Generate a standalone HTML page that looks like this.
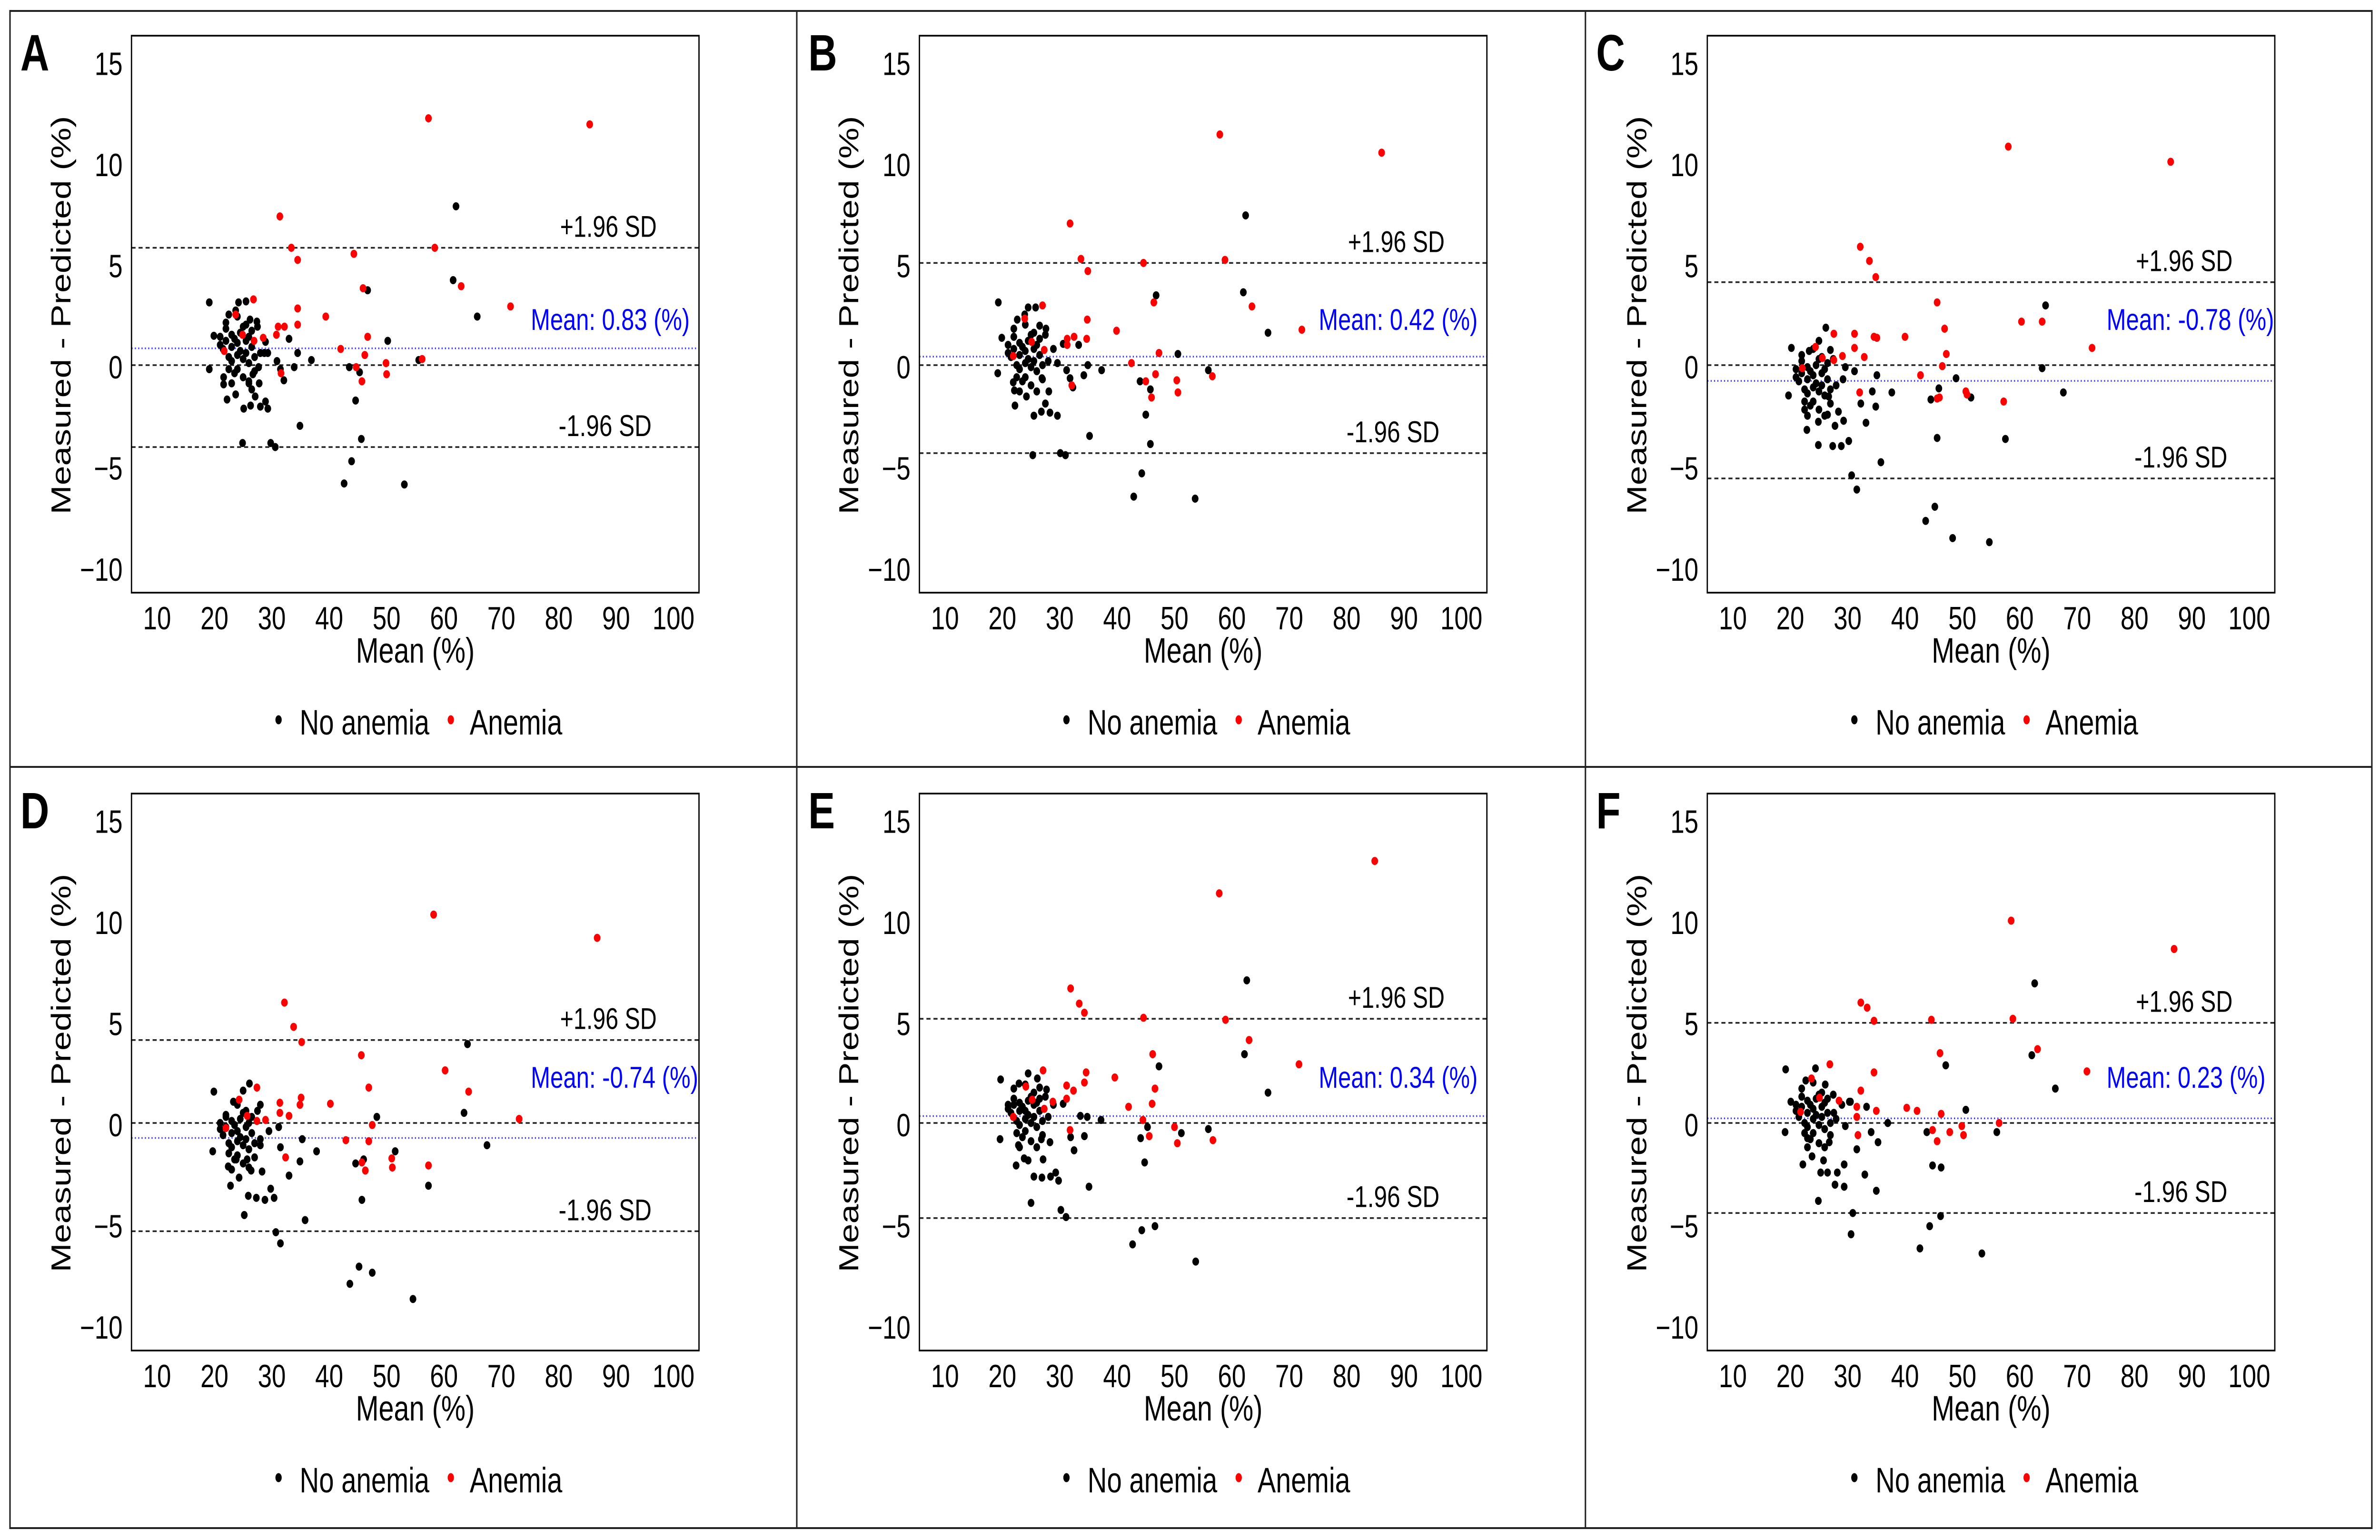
<!DOCTYPE html>
<html><head><meta charset="utf-8"><style>
html,body{margin:0;padding:0;background:#fff;overflow:hidden;width:100vw;height:100vh;}
svg{display:block;font-family:"Liberation Sans",Arial,sans-serif;width:100vw;height:100vh;}
</style></head><body>
<svg id="fig" xmlns="http://www.w3.org/2000/svg" viewBox="0 0 6425 3235" preserveAspectRatio="none">
<rect x="0" y="0" width="6425" height="3235" fill="#fff"/>
<rect x="27" y="23" width="6376" height="3187" fill="none" stroke="#222" stroke-width="4"/>
<line x1="2151" y1="23" x2="2151" y2="3210" stroke="#222" stroke-width="4"/>
<line x1="4280" y1="23" x2="4280" y2="3210" stroke="#222" stroke-width="4"/>
<line x1="27" y1="1611" x2="6403" y2="1611" stroke="#222" stroke-width="4"/>
</svg>
<script>
// ---------- data (data units: x = Mean %, y = Measured - Predicted %) ----------
const panelLetters = ["A","B","C","D","E","F"];
const meanValues = [0.83, 0.42, -0.78, -0.74, 0.34, 0.23];
const upperSD = [5.8, 5.05, 4.1, 4.1, 5.15, 4.95];
const lowerSD = [-4.05, -4.35, -5.6, -5.35, -4.7, -4.45];
const xTicks = [10,20,30,40,50,60,70,80,90,100];
const yTicks = [15,10,5,0,-5,-10];
const yTickLabels = ["15","10","5","0","\u22125","\u221210"];

const aNoX = [62.1,61.6,65.8,46.7,50.2,55.6,36.9,34.5,33.0,33.9,30.9,31.5,32.1,34.9,43.5,45.3,44.6,45.6,43.9,42.6,53.1,30.6,29.8,24.9,29.3,28.9,28.0,26.3,25.1,27.1,23.7,22.2,19.1,19.1,19.9,22.5,24.2,25.5,23.7,27.4,26.2,28.9,28.7,29.3,27.7,26.7,26.0,27.8,26.5,21.6,21.6,
 21,21.5,22,22,22.5,22.5,23,23,23,23.5,23.5,24,24,24,24.5,24.5,25,25,25,25.5,25.5,26,26,26,26.5,26.5,27,27,27.5,28,22,24,25.5,21,23];
const aNoY = [7.85,4.2,2.4,3.7,1.2,0.25,0.25,0.6,1.3,-0.1,0.2,-0.2,-0.75,-3.0,-0.1,-0.35,-1.75,-3.65,-4.75,-5.85,-5.9,-4.05,-3.85,-3.85,-2.15,-1.8,-2.05,-2.0,-2.15,-1.55,-1.45,-1.7,3.1,-0.2,1.45,2.5,3.1,3.15,2.7,2.15,2.25,1.15,0.6,0.6,-0.1,-0.45,-0.8,-0.9,-1.2,-0.95,-0.6,
 1.0,0.8,1.8,1.2,0.4,-0.2,1.5,0.9,0.2,1.3,-0.4,1.1,0.5,-0.2,1.6,0.7,1.9,0.3,-0.6,1.2,0.6,1.4,0.1,-0.9,0.9,1.7,0.4,-0.3,1.9,0.6,2.1,2.4,2.0,1.4,-0.9];
const aAnX = [57.3,85.4,31.4,33.4,34.5,44.3,58.4,63.0,71.6,45.9,34.5,39.4,34.5,31.1,32.2,26.8,28.5,46.7,42.0,46.2,49.9,56.2,50.0,45.7,31.6,44.7,30.8,24.9,23.7,26.9,21.7];
const aAnY = [12.2,11.9,7.35,5.8,5.2,5.5,5.8,3.9,2.9,3.8,2.8,2.4,2.0,1.9,1.9,3.25,1.35,1.4,0.8,0.5,0.1,0.3,-0.45,-0.8,-0.4,-0.1,1.5,1.5,2.5,1.2,0.7];

const bNoX = [62.4,62.0,66.3,46.8,50.6,55.9,37.3,34.9,33.3,34.2,30.6,31.2,31.8,32.3,35.2,44.0,45.8,45.0,45.8,44.3,42.9,53.6,31.0,30.1,25.3,29.6,28.3,26.8,25.5,27.5,24.2,22.2,19.3,19.2,19.9,22.6,24.5,25.8,23.9,27.6,26.5,28.9,29.6,28.1,26.9,22.1,21.9,
 21,21.5,22,22,22.5,22.5,23,23,23,23.5,23.5,24,24,24,24.5,24.5,25,25,25,25.5,25.5,26,26,26,26.5,26.5,27,27,27.5,28,22,24,25.5,21,23];
const bNoY = [7.4,3.6,1.6,3.45,0.55,-0.25,-0.25,0.0,1.0,-0.5,1.05,-0.25,-0.65,-1.1,-3.5,-0.8,-1.2,-2.45,-3.9,-5.35,-6.5,-6.6,-4.45,-4.35,-4.45,-2.5,-2.35,-2.3,-2.5,-1.9,-1.55,-2.0,3.1,-0.4,1.35,2.25,2.85,2.85,2.5,1.8,1.95,0.8,0.1,-1.3,-0.65,-1.25,-0.85,
 0.6,0.4,1.4,0.8,0.0,-0.6,1.1,0.5,-0.2,0.9,-0.8,0.7,0.1,-0.6,1.2,0.3,1.5,-0.1,-1.0,0.8,0.2,1.0,-0.3,-1.3,0.5,1.3,0.0,-0.7,1.5,0.2,1.8,2.0,1.6,1.0,-1.3];
const bAnX = [57.9,86.1,31.8,33.7,34.9,44.6,58.8,63.5,72.2,46.4,34.8,39.9,34.7,31.3,32.5,27.0,31.3,47.3,42.5,46.7,50.4,56.6,50.6,46.0,32.1,45.0,27.3,25.1,23.9,21.9];
const bAnY = [11.4,10.5,7.0,5.25,4.65,5.05,5.2,2.9,1.75,3.1,2.25,1.7,1.3,1.3,1.4,2.95,1.0,0.6,0.1,-0.45,-0.75,-0.55,-1.35,-1.6,-1.0,-0.8,0.75,1.15,2.3,0.45];

const cNoX = [64.5,63.9,67.6,48.9,51.5,57.5,37.7,35.1,34.3,31.2,32.3,34.9,33.2,35.8,44.5,45.9,45.6,45.2,43.6,48.3,54.7,31.6,30.7,24.9,27.4,28.9,30.2,27.8,29.3,28.4,26.5,24.9,22.9,22.5,19.7,20.2,23.3,25.0,26.2,27.0,29.6,29.2,26.7,
 21,21.5,22,22,22.5,22.5,23,23,23,23.5,23.5,24,24,24,24.5,24.5,25,25,25,25.5,25.5,26,26,26,26.5,26.5,27,27,27.5,28,22,24,25.5,21,23];
const cNoY = [2.95,-0.15,-1.35,-0.65,-1.6,-3.65,-1.35,-0.5,-1.3,-0.3,-1.9,-2.05,-2.85,-4.8,-1.7,-1.15,-3.6,-7.0,-7.7,-8.55,-8.75,-6.15,-5.45,-3.95,-4.0,-4.0,-3.75,-3.0,-2.75,-2.3,-2.45,-2.8,-3.2,-2.2,-1.5,0.85,0.7,1.2,1.85,0.75,-0.1,-0.7,-1.55,
 -0.6,-0.8,0.2,-0.4,-1.2,-1.8,-0.1,-0.7,-1.4,-0.3,-2.0,-0.5,-1.1,-1.8,0.0,-0.9,0.3,-1.3,-2.2,-0.4,-1.0,-0.2,-1.5,-2.5,-0.7,0.1,-1.2,-1.9,0.3,-1.0,0.5,0.8,0.4,-0.2,-2.5];
const cAnX = [58.0,86.3,32.2,33.8,34.9,45.6,60.3,63.9,72.6,46.9,34.6,40.0,35.1,31.2,31.2,27.6,29.1,47.2,42.7,46.5,50.6,57.2,50.8,45.6,32.1,46.0,27.6,25.6,24.4,22.1,32.9];
const cAnY = [10.8,10.05,5.85,5.15,4.35,3.1,2.15,2.15,0.85,1.8,1.4,1.4,1.35,1.55,0.85,1.55,0.45,0.55,-0.5,-0.05,-1.3,-1.8,-1.45,-1.65,-1.35,-1.6,0.25,0.35,0.9,-0.15,0.4];

const dNoX = [64.1,63.5,67.5,48.3,51.5,57.3,37.8,35.3,34.9,31.2,31.5,33.0,35.8,44.6,46.0,45.7,45.2,43.6,47.5,54.6,30.7,31.5,25.2,25.9,27.3,28.8,30.4,29.8,28.3,26.4,24.3,22.8,22.4,19.7,19.9,23.3,25.0,26.1,28.0,29.5,28.0,25.7,23.8,
 21,21.5,22,22,22.5,22.5,23,23,23,23.5,23.5,24,24,24,24.5,24.5,25,25,25,25.5,25.5,26,26,26,26.5,26.5,27,27,27.5,28,22,24,25.5,21,23];
const dNoY = [3.9,0.5,-1.1,0.3,-1.4,-3.1,-1.4,-0.8,-1.9,-0.2,-1.2,-2.6,-4.8,-2.0,-1.8,-3.8,-7.1,-7.95,-7.4,-8.7,-5.4,-5.95,-4.55,-3.6,-3.7,-3.8,-3.7,-3.25,-2.4,-2.35,-2.7,-3.1,-2.15,-1.4,1.55,1.05,1.6,1.95,0.9,-0.4,-1.1,-1.8,-1.8,
 -0.3,-0.6,0.3,-0.2,-1.0,-1.5,0.1,-0.5,-1.2,-0.1,-1.8,-0.4,-0.9,-1.6,0.2,-0.7,0.5,-1.1,-2.0,-0.2,-0.8,0.0,-1.3,-2.2,-0.5,0.3,-1.0,-1.7,0.6,-0.8,0.4,0.9,0.6,0.0,-2.3];
const dAnX = [58.2,86.7,32.2,33.8,35.2,45.6,60.2,64.3,73.1,46.9,35.1,40.2,34.9,31.4,31.4,27.4,28.9,33.0,47.5,42.9,46.9,50.9,57.3,51.0,45.7,46.3,32.4,27.4,25.7,24.3,22.0];
const dAnY = [10.3,9.15,5.95,4.75,4.0,3.35,2.6,1.55,0.2,1.75,1.25,0.95,0.9,1.0,0.5,1.75,0.15,0.35,-0.1,-0.85,-0.9,-1.75,-2.1,-2.2,-1.95,-2.35,-1.7,0.1,0.35,1.15,-0.25];

const eNoX = [62.6,62.2,66.3,47.3,51.2,55.9,37.2,34.8,33.6,34.3,30.6,31.9,32.5,35.1,44.1,45.3,44.8,46.6,44.3,42.7,53.7,31.1,30.2,25.0,25.5,26.9,28.4,29.8,29.3,27.1,24.5,23.8,22.4,19.6,19.7,22.9,24.5,26.1,27.7,26.5,28.9,28.3,26.8,22.8,
 21,21.5,22,22,22.5,22.5,23,23,23,23.5,23.5,24,24,24,24.5,24.5,25,25,25,25.5,25.5,26,26,26,26.5,26.5,27,27,27.5,28,22,24,25.5,21,23];
const eNoY = [7.05,3.4,1.5,2.8,-0.5,-0.3,0.15,0.3,0.35,-0.65,0.95,-0.7,-1.35,-3.15,-0.75,-0.2,-1.95,-5.1,-5.3,-6.0,-6.85,-4.65,-4.3,-3.95,-2.65,-2.7,-2.65,-2.85,-2.45,-1.8,-1.85,-1.75,-2.1,-0.8,2.15,1.95,2.45,2.2,1.65,1.75,0.9,-0.95,-0.8,-1.1,
 0.7,0.5,1.2,0.9,0.1,-0.5,1.0,0.6,-0.1,0.8,-0.7,0.6,0.2,-0.4,1.1,0.4,1.3,0.0,-0.9,0.9,0.3,1.0,-0.2,-1.2,0.6,1.2,0.1,-0.6,1.3,0.3,1.7,1.9,1.5,0.9,-1.2];
const eAnX = [57.8,84.9,31.9,33.4,34.3,44.6,58.9,63.0,71.7,46.2,34.6,39.6,34.3,31.2,32.4,27.1,31.2,46.6,42.0,46.1,50.0,56.7,50.5,45.6,31.8,44.5,27.3,25.2,24.1,21.9,28.8];
const eAnY = [11.35,12.95,6.65,5.9,5.45,5.2,5.1,4.1,2.9,3.4,2.5,2.25,2.0,1.85,1.6,2.6,1.2,1.7,0.8,0.95,-0.2,-0.85,-1.0,-0.65,-0.35,0.15,0.7,1.15,1.8,0.3,1.05];

const fNoX = [62.6,62.1,66.2,47.1,50.6,56.0,37.0,35.3,34.1,33.3,30.5,31.6,29.6,33.0,35.0,43.8,44.8,46.3,46.2,44.3,42.6,53.4,30.9,30.6,24.9,27.8,29.4,29.4,28.2,26.5,25.3,25.8,23.8,22.2,19.1,19.2,20.1,22.7,24.4,26.1,27.6,29.0,30.3,26.8,23.0,
 21,21.5,22,22,22.5,22.5,23,23,23,23.5,23.5,24,24,24,24.5,24.5,25,25,25,25.5,25.5,26,26,26,26.5,26.5,27,27,27.5,28,22,24,25.5,21,23];
const fNoY = [6.9,3.35,1.7,2.85,0.65,-0.45,0.0,-0.95,-0.45,0.8,1.05,-1.3,-0.15,-2.55,-3.35,-0.45,-2.1,-2.2,-4.6,-5.1,-6.2,-6.45,-4.45,-5.5,-3.85,-3.05,-3.15,-2.05,-2.45,-2.45,-2.45,-1.85,-1.65,-2.05,-0.45,2.65,1.05,2.1,2.7,1.9,0.5,0.9,1.05,-0.95,-0.75,
 0.6,0.3,1.3,0.8,0.0,-0.5,1.1,0.5,-0.2,0.9,-0.8,0.7,0.2,-0.5,1.2,0.4,1.4,-0.1,-1.0,0.8,0.3,1.0,-0.3,-1.2,0.5,1.2,0.0,-0.6,1.4,0.2,1.7,2.0,1.5,0.9,-1.2];
const fAnX = [58.5,86.9,32.3,33.4,34.6,44.6,58.8,63.1,71.7,46.1,34.6,40.3,42.1,35.0,31.6,31.6,32.3,26.9,28.5,46.3,44.8,47.8,49.9,50.2,56.4,45.6,31.8,25.1,23.7,21.8];
const fAnY = [10.0,8.6,5.95,5.7,5.05,5.1,5.15,3.65,2.55,3.45,2.5,0.75,0.6,0.6,0.8,0.3,1.6,2.9,1.1,0.45,-0.35,-0.45,-0.15,-0.6,0.0,-0.9,-0.6,1.25,2.2,0.55];

const noAnemiaXs = [aNoX,bNoX,cNoX,dNoX,eNoX,fNoX];
const noAnemiaYs = [aNoY,bNoY,cNoY,dNoY,eNoY,fNoY];
const anemiaXs = [aAnX,bAnX,cAnX,dAnX,eAnX,fAnX];
const anemiaYs = [aAnY,bAnY,cAnY,dAnY,eAnY,fAnY];

// ---------- drawing ----------
const NS = "http://www.w3.org/2000/svg";
const svg = document.getElementById("fig");
const PL = 355, PR = 1887, PT = 75, PB = 1245;
function xs(v){ return 424 + (v - 10) * 15.49; }
function ys(v){ return 767 - v * 42.5; }
function mk(tag, attrs, parent){
  const e = document.createElementNS(NS, tag);
  for (const k in attrs) e.setAttribute(k, attrs[k]);
  parent.appendChild(e);
  return e;
}
function txt(s, attrs, parent){
  const e = mk("text", attrs, parent);
  e.textContent = s;
  return e;
}

for (let p = 0; p < 6; p++) {
  const ox = (p % 3) * 2127, oy = Math.floor(p / 3) * 1592;
  const g = mk("g", {transform: "translate(" + ox + "," + oy + ")"}, svg);
  
  

  const lt = txt(panelLetters[p], {x: 55, y: 148, "font-size": 108, "font-weight": "bold", fill: "#000"}, g);
  
  

  const zl = mk("line", {x1: PL, x2: PR, y1: ys(0), y2: ys(0), stroke: "#222", "stroke-width": 3.5, "stroke-dasharray": "11 8"}, g);
  
  
  const ul = mk("line", {x1: PL, x2: PR, y1: ys(upperSD[p]), y2: ys(upperSD[p]), stroke: "#222", "stroke-width": 3.5, "stroke-dasharray": "11 8"}, g);
  
  
  const ll = mk("line", {x1: PL, x2: PR, y1: ys(lowerSD[p]), y2: ys(lowerSD[p]), stroke: "#222", "stroke-width": 3.5, "stroke-dasharray": "11 8"}, g);
  
  
  const ml = mk("line", {x1: PL, x2: PR, y1: ys(meanValues[p]), y2: ys(meanValues[p]), stroke: "#3333ff", "stroke-width": 3.5, "stroke-dasharray": "3 6"}, g);
  
  

  const ut = txt("+1.96 SD", {x: 1512, y: ys(upperSD[p]) - 23, "font-size": 63, fill: "#000", textLength: 261, lengthAdjust: "spacingAndGlyphs"}, g);
  
  
  const lo = txt("-1.96 SD", {x: 1508, y: ys(lowerSD[p]) - 23, "font-size": 63, fill: "#000", textLength: 251, lengthAdjust: "spacingAndGlyphs"}, g);
  
  
  const mv = meanValues[p];
  const mstr = "Mean: " + mv.toFixed(2) + " (%)";
  const mt = txt(mstr, {x: 1433, y: 693, "font-size": 63, fill: "#0000ff", textLength: mv < 0 ? 452 : 429, lengthAdjust: "spacingAndGlyphs"}, g);
  
  

  const nx = noAnemiaXs[p], ny = noAnemiaYs[p];
  for (let i = 0; i < nx.length; i++) {
    const c = mk("ellipse", {cx: xs(nx[i]), cy: ys(ny[i]), rx: 9, ry: 8.5, fill: "#000"}, g);
    
    
  }
  const ax = anemiaXs[p], ay = anemiaYs[p];
  for (let i = 0; i < ax.length; i++) {
    const c = mk("ellipse", {cx: xs(ax[i]), cy: ys(ay[i]), rx: 9, ry: 8.5, fill: "#ff0000"}, g);
    
    
  }

  const fr = mk("rect", {x: PL, y: PT, width: PR - PL, height: PB - PT, fill: "none", stroke: "#000", "stroke-width": 3.5}, g);
  
  

  for (let i = 0; i < yTicks.length; i++) {
    const t = txt(yTickLabels[i], {x: 331, y: ys(yTicks[i]) + 28, "font-size": 68, "text-anchor": "end", fill: "#000"}, g);
    
    
  }
  for (let i = 0; i < xTicks.length; i++) {
    const t = txt(String(xTicks[i]), {x: xs(xTicks[i]), y: 1322, "font-size": 68, "text-anchor": "middle", fill: "#000"}, g);
    
    
  }
  const xt = txt("Mean (%)", {x: 1121, y: 1392, "font-size": 74, "text-anchor": "middle", fill: "#000"}, g);
  
  
  const yt = txt("Measured - Predicted (%)", {x: 0, y: 0, "font-size": 74, "text-anchor": "middle", fill: "#000", transform: "translate(190,662) rotate(-90)", textLength: 837, lengthAdjust: "spacingAndGlyphs"}, g);
  
  

  const lg = mk("g", {}, g);
  
  
  const d1 = mk("ellipse", {cx: 752, cy: 1512, rx: 8.5, ry: 9.5, fill: "#000"}, lg);
  
  
  const t1 = txt("No anemia", {x: 809, y: 1543, "font-size": 74, fill: "#000", textLength: 350, lengthAdjust: "spacingAndGlyphs"}, lg);
  
  
  const d2 = mk("ellipse", {cx: 1217, cy: 1512, rx: 8.5, ry: 9.5, fill: "#ff0000"}, lg);
  
  
  const t2 = txt("Anemia", {x: 1268, y: 1543, "font-size": 74, fill: "#000", textLength: 250, lengthAdjust: "spacingAndGlyphs"}, lg);
  
  
}
</script>
</body></html>
